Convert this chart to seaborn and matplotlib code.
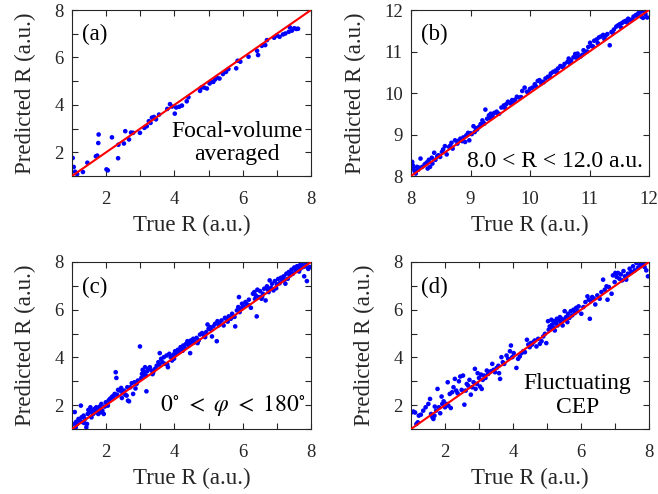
import matplotlib
matplotlib.use("Agg")
import matplotlib.pyplot as plt
import seaborn as sns
import pandas as pd
from matplotlib.ticker import MultipleLocator, FuncFormatter

# ---------------- data ----------------
a_true = [1.02, 1.05, 1.09, 1.15, 1.32, 1.45, 1.70, 1.74, 1.77, 1.78, 2.01, 2.05, 2.17, 2.35, 2.36,
          2.52, 2.56, 2.67, 2.73, 2.79, 2.99, 3.12, 3.19, 3.25, 3.30, 3.34, 3.40, 3.46, 3.55, 3.79,
          3.87, 3.93, 4.01, 4.05, 4.14, 4.22, 4.36, 4.41, 4.75, 4.79, 4.87, 4.95, 5.03, 5.07, 5.14,
          5.19, 5.24, 5.32, 5.42, 5.51, 5.58, 5.81, 5.85, 5.93, 6.17, 6.42, 6.45, 6.56, 6.66, 6.71,
          6.92, 7.00, 7.08, 7.18, 7.25, 7.35, 7.38, 7.44, 7.51, 7.57, 7.62]
a_pred = [1.76, 1.38, 1.18, 1.08, 1.17, 1.56, 1.83, 1.86, 2.39, 2.75, 1.28, 1.24, 2.63, 1.75, 2.32,
          2.37, 2.89, 2.54, 2.83, 2.82, 2.82, 3.03, 3.10, 3.31, 3.24, 3.46, 3.49, 3.39, 3.59, 3.83,
          4.03, 3.93, 3.63, 3.89, 3.92, 3.97, 4.15, 4.32, 4.59, 4.73, 4.73, 4.69, 4.90, 4.97, 4.97,
          5.07, 5.15, 5.11, 5.30, 5.39, 5.51, 5.54, 5.86, 5.82, 6.03, 6.28, 6.10, 6.49, 6.52, 6.73,
          6.83, 6.92, 6.87, 6.97, 7.01, 7.08, 7.27, 7.13, 7.23, 7.20, 7.21]

b_true = [8.02, 8.03, 8.04, 8.06, 8.08, 8.10, 8.12, 8.16, 8.19, 8.23, 8.27, 8.28, 8.30, 8.32, 8.35,
          8.36, 8.39, 8.41, 8.46, 8.49, 8.54, 8.57, 8.60, 8.64, 8.68, 8.70, 8.74, 8.78, 8.83, 8.86,
          8.91, 8.93, 8.96, 8.98, 9.02, 9.05, 9.07, 9.11, 9.14, 9.17, 9.20, 9.23, 9.25, 9.28, 9.31,
          9.34, 9.37, 9.40, 9.44, 9.48, 9.52, 9.56, 9.60, 9.63, 9.67, 9.70, 9.75, 9.78, 9.82, 9.87,
          9.91, 9.95, 10.00, 10.04, 10.08, 10.13, 10.16, 10.19, 10.23, 10.26, 10.30, 10.35, 10.39,
          10.43, 10.47, 10.51, 10.54, 10.58, 10.63, 10.65, 10.69, 10.73, 10.76, 10.80, 10.82, 10.85,
          10.90, 10.93, 10.98, 11.01, 11.04, 11.08, 11.12, 11.16, 11.19, 11.23, 11.27, 11.30, 11.34,
          11.37, 11.41, 11.45, 11.48, 11.51, 11.55, 11.58, 11.61, 11.65, 11.69, 11.74, 11.78, 11.82,
          11.85, 11.87, 11.90, 11.94, 11.97,
          8.14, 8.25, 8.44, 8.52, 8.66, 8.80, 8.88, 9.00, 9.09, 9.22, 9.33, 9.46, 9.58, 9.72, 9.85,
          9.97, 10.10, 10.21, 10.33, 10.45, 10.56, 10.67, 10.78, 10.88, 10.96, 11.06, 11.14, 11.25,
          11.39, 11.53, 11.63, 11.72, 11.80, 11.92]
b_pred = [8.34, 8.26, 8.18, 8.12, 8.06, 8.22, 8.15, 8.42, 8.22, 8.28, 8.33, 8.18, 8.39, 8.22, 8.44,
          8.30, 8.56, 8.39, 8.50, 8.46, 8.64, 8.72, 8.52, 8.70, 8.80, 8.66, 8.86, 8.78, 8.90, 8.84,
          8.82, 8.98, 9.04, 8.86, 9.01, 9.20, 9.06, 9.12, 9.18, 9.25, 9.34, 9.26, 9.60, 9.38, 9.46,
          9.50, 9.44, 9.52, 9.55, 9.50, 9.65, 9.70, 9.73, 9.79, 9.75, 9.83, 9.84, 9.91, 9.89, 10.05,
          10.13, 10.03, 10.10, 10.13, 10.21, 10.29, 10.31, 10.23, 10.26, 10.35, 10.39, 10.47, 10.51,
          10.54, 10.59, 10.65, 10.63, 10.70, 10.75, 10.83, 10.78, 10.86, 10.94, 10.95, 10.86, 10.88,
          11.03, 10.99, 11.11, 11.21, 11.13, 11.26, 11.29, 11.34, 11.36, 11.40, 11.38, 11.42, 11.15,
          11.47, 11.53, 11.60, 11.63, 11.66, 11.69, 11.72, 11.74, 11.79, 11.76, 11.84, 11.88, 11.92,
          11.95, 11.84, 11.81, 11.90, 11.82,
          8.20, 8.30, 8.47, 8.58, 8.73, 8.85, 8.93, 9.03, 9.15, 9.28, 9.40, 9.50, 9.64, 9.77, 9.90,
          10.02, 10.16, 10.27, 10.40, 10.50, 10.62, 10.72, 10.85, 10.92, 11.00, 11.12, 11.20, 11.30,
          11.45, 11.58, 11.70, 11.77, 11.86, 11.96]

c_true = [1.03, 1.08, 1.11, 1.15, 1.19, 1.23, 1.26, 1.28, 1.32, 1.34, 1.38, 1.42, 1.44, 1.46, 1.48,
          1.52, 1.54, 1.57, 1.60, 1.62, 1.66, 1.70, 1.71, 1.75, 1.77, 1.81, 1.86, 1.89, 1.93, 1.96,
          1.99, 2.03, 2.07, 2.11, 2.15, 2.18, 2.22, 2.25, 2.28, 2.30, 2.32, 2.35, 2.40, 2.44, 2.48,
          2.52, 2.56, 2.60, 2.64, 2.67, 2.71, 2.75, 2.79, 2.83, 2.89, 2.93, 2.99, 3.03, 3.05, 3.07,
          3.10, 3.12, 3.14, 3.18, 3.20, 3.24, 3.28, 3.33, 3.38, 3.43, 3.48, 3.53, 3.57, 3.61, 3.65,
          3.69, 3.73, 3.77, 3.81, 3.85, 3.89, 3.93, 3.97, 4.02, 4.06, 4.10, 4.14, 4.18, 4.22, 4.26,
          4.30, 4.34, 4.38, 4.42, 4.46, 4.48, 4.51, 4.55, 4.60, 4.65, 4.71, 4.75, 4.81, 4.87, 4.93,
          4.97, 5.00, 5.04, 5.10, 5.14, 5.19, 5.24, 5.26, 5.32, 5.38, 5.44, 5.48, 5.53, 5.59, 5.65,
          5.69, 5.73, 5.78, 5.83, 5.87, 5.89, 5.91, 5.94, 5.98, 6.02, 6.08, 6.12, 6.18, 6.24, 6.30,
          6.34, 6.38, 6.41, 6.43, 6.47, 6.51, 6.55, 6.59, 6.63, 6.67, 6.71, 6.76, 6.79, 6.83, 6.86,
          6.90, 6.94, 7.00, 7.04, 7.08, 7.12, 7.16, 7.20, 7.25, 7.28, 7.32, 7.35, 7.39, 7.43, 7.47,
          7.51, 7.55, 7.59, 7.63, 7.67, 7.69, 7.73, 7.77, 7.80, 7.84, 7.88, 7.92, 7.96,
          1.12, 1.36, 1.58, 1.84, 2.05, 2.20, 2.46, 2.62, 2.86, 3.16, 3.36, 3.56, 3.79, 3.99, 4.24,
          4.44, 4.68, 4.90, 5.08, 5.30, 5.56, 5.76, 5.96, 6.16, 6.36, 6.57, 6.74, 6.98, 7.22, 7.45,
          7.65, 7.86]
c_pred = [1.21, 1.71, 1.07, 1.21, 1.42, 1.35, 1.98, 1.49, 1.28, 1.56, 1.42, 1.07, 1.21, 1.63, 1.80,
          1.70, 1.91, 1.49, 1.77, 1.63, 1.84, 1.70, 1.91, 1.80, 1.63, 1.94, 2.05, 1.77, 1.63, 1.94,
          2.12, 2.05, 2.19, 2.26, 2.30, 2.36, 2.39, 2.47, 3.38, 3.14, 2.44, 2.64, 2.61, 2.72, 2.50,
          2.61, 2.44, 2.40, 2.19, 2.16, 2.75, 2.92, 2.47, 2.96, 2.89, 3.03, 4.46, 3.14, 3.31, 3.48,
          3.38, 3.24, 3.59, 2.58, 3.42, 3.52, 3.59, 3.45, 3.38, 3.52, 3.65, 3.80, 4.18, 3.94, 3.80,
          4.01, 3.73, 4.08, 3.59, 4.15, 4.01, 3.87, 4.12, 4.26, 4.15, 4.32, 4.22, 4.43, 4.32, 4.50,
          4.40, 4.57, 4.68, 4.50, 4.18, 4.71, 4.60, 4.78, 4.64, 4.82, 4.71, 4.96, 5.02, 4.92, 5.06,
          5.38, 5.20, 5.27, 4.88, 5.30, 5.41, 4.68, 5.52, 5.44, 5.55, 5.34, 5.66, 5.58, 5.72, 5.62,
          5.83, 5.72, 5.30, 5.97, 6.11, 6.53, 5.90, 6.04, 6.25, 6.14, 6.32, 6.22, 6.42, 6.08, 6.67,
          6.74, 6.60, 5.72, 6.84, 6.53, 6.78, 6.46, 6.67, 6.88, 6.39, 6.98, 6.74, 7.23, 6.92, 7.09,
          6.81, 7.20, 7.06, 7.29, 7.11, 7.34, 7.23, 7.40, 7.09, 7.51, 7.30, 7.58, 7.44, 7.68, 7.51,
          7.77, 7.63, 7.82, 7.71, 7.86, 7.72, 7.90, 7.79, 7.40, 7.82, 7.20, 7.71, 7.79,
          1.30, 1.25, 1.75, 1.70, 1.98, 2.35, 2.30, 2.75, 2.70, 3.25, 3.30, 3.70, 3.70, 3.95, 4.28,
          4.55, 4.60, 4.85, 5.15, 5.35, 5.50, 5.70, 6.05, 6.20, 6.45, 6.55, 6.85, 6.90, 7.25, 7.50,
          7.60, 7.95]

d_true = [1.02, 1.07, 1.12, 1.16, 1.20, 1.23, 1.29, 1.36, 1.43, 1.51, 1.56, 1.59, 1.63, 1.66, 1.69,
          1.70, 1.74, 1.78, 1.82, 1.86, 1.90, 1.92, 1.96, 2.00, 2.05, 2.08, 2.10, 2.14, 2.17, 2.21,
          2.25, 2.29, 2.33, 2.37, 2.41, 2.45, 2.49, 2.53, 2.57, 2.61, 2.64, 2.68, 2.72, 2.76, 2.80,
          2.84, 2.88, 2.90, 2.94, 2.96, 3.00, 3.03, 3.06, 3.08, 3.11, 3.15, 3.19, 3.23, 3.27, 3.35,
          3.39, 3.43, 3.47, 3.52, 3.57, 3.59, 3.62, 3.66, 3.70, 3.74, 3.81, 3.86, 3.91, 3.94, 3.98,
          4.02, 4.10, 4.15, 4.20, 4.25, 4.30, 4.35, 4.41, 4.45, 4.49, 4.52, 4.56, 4.60, 4.64, 4.69,
          4.74, 4.79, 4.84, 4.89, 4.94, 4.98, 5.03, 5.05, 5.08, 5.11, 5.13, 5.15, 5.18, 5.21, 5.23,
          5.26, 5.29, 5.31, 5.35, 5.38, 5.41, 5.43, 5.46, 5.50, 5.52, 5.56, 5.60, 5.62, 5.66, 5.70,
          5.74, 5.78, 5.82, 5.86, 5.90, 5.93, 6.01, 6.07, 6.13, 6.19, 6.23, 6.26, 6.29, 6.33, 6.38,
          6.42, 6.48, 6.55, 6.60, 6.65, 6.70, 6.75, 6.78, 6.82, 6.90, 6.94, 6.99, 7.01, 7.05, 7.09,
          7.13, 7.17, 7.21, 7.25, 7.29, 7.33, 7.38, 7.43, 7.48, 7.53, 7.58, 7.63, 7.68, 7.73, 7.77,
          7.82, 7.87, 7.92, 7.97]
d_pred = [1.70, 1.73, 1.69, 1.21, 1.28, 1.56, 1.60, 1.77, 1.91, 2.05, 2.26, 1.63, 1.49, 1.42, 1.56,
          1.94, 1.77, 2.68, 1.91, 1.66, 2.36, 2.05, 2.16, 1.91, 2.05, 2.96, 1.98, 2.47, 1.88, 2.54,
          2.75, 3.10, 2.61, 2.50, 3.00, 3.20, 2.64, 3.24, 2.02, 2.61, 2.89, 2.82, 3.06, 2.44, 2.75,
          2.96, 3.52, 2.68, 2.89, 3.34, 3.14, 2.78, 3.28, 2.68, 3.06, 3.24, 3.14, 3.45, 3.31, 3.42,
          3.73, 3.48, 3.38, 3.56, 3.65, 3.34, 3.10, 4.01, 3.80, 3.73, 4.08, 3.94, 4.26, 4.50, 4.01,
          4.18, 3.56, 3.94, 4.04, 4.18, 4.26, 4.22, 4.74, 4.54, 4.43, 4.60, 4.54, 4.64, 4.71, 4.46,
          4.78, 4.57, 4.68, 4.88, 4.99, 4.60, 5.52, 5.16, 5.30, 5.20, 5.58, 5.38, 5.27, 5.52, 5.13,
          5.44, 5.62, 5.34, 5.55, 5.69, 5.44, 5.62, 5.34, 5.58, 5.94, 5.69, 5.48, 5.83, 5.66, 5.94,
          5.76, 6.00, 5.86, 6.08, 5.94, 6.14, 5.83, 6.11, 6.32, 6.56, 6.42, 5.62, 6.36, 6.53, 6.46,
          6.22, 6.60, 6.46, 6.74, 7.26, 6.84, 6.98, 6.42, 6.95, 6.67, 7.44, 7.16, 7.54, 7.37, 7.54,
          7.30, 7.48, 7.23, 7.62, 7.40, 7.26, 7.51, 7.72, 7.58, 7.82, 7.65, 7.96, 7.76, 7.86, 7.90,
          7.96, 7.79, 7.65, 7.40]

ref_line = [1, 8]
ref_line_b = [8, 12]

panel_labels = ["(a)", "(b)", "(c)", "(d)"]
annotations = ["Focal-volume\naveraged", "8.0 < R < 12.0 a.u.",
               r"$0^{\circ}\ <\ \varphi\ <\ 180^{\circ}$", "Fluctuating\nCEP"]
xlabel = "True R (a.u.)"
ylabel = "Predicted R (a.u.)"

# ---------------- style ----------------
sns.set_style("ticks")
plt.rcParams["font.family"] = ["Liberation Serif", "DejaVu Serif"]
plt.rcParams["mathtext.fontset"] = "stix"
dark = "#262626"

fig = plt.figure(figsize=(6.58, 4.94), dpi=100)
W, H = 658, 494
boxes = [(72, 10, 311, 176), (411, 10, 649, 176), (72, 262, 311, 429), (411, 262, 649, 429)]
axes = [fig.add_axes([l / W, 1 - b / H, (r - l) / W, (b - t) / H]) for (l, t, r, b) in boxes]

datasets = [(a_true, a_pred, ref_line), (b_true, b_pred, ref_line_b),
            (c_true, c_pred, ref_line), (d_true, d_pred, ref_line)]

text_pos = [(0.69, 0.20, "center"), (0.975, 0.085, "right"), (0.975, 0.14, "right"), (0.70, 0.20, "center")]

for i, (ax, (xt, yp, rl)) in enumerate(zip(axes, datasets)):
    df = pd.DataFrame({"true": xt, "pred": yp})
    sns.scatterplot(data=df, x="true", y="pred", ax=ax, color="#0000ff", s=11,
                    edgecolor="none", linewidth=0, zorder=2)
    sns.lineplot(x=rl, y=rl, ax=ax, color="#ff0000", linewidth=1.5, zorder=3)
    ax.set_xlim(rl[0], rl[1])
    ax.set_ylim(rl[0], rl[1])
    ax.xaxis.set_major_locator(MultipleLocator(1))
    ax.yaxis.set_major_locator(MultipleLocator(1))
    if i != 1:
        fmt = FuncFormatter(lambda v, p: f"{int(round(v))}" if int(round(v)) % 2 == 0 and v > 1.5 else "")
        ax.xaxis.set_major_formatter(fmt)
        ax.yaxis.set_major_formatter(fmt)
    ax.tick_params(direction="in", top=True, right=True, length=4, width=0.8,
                   labelsize=13.5, colors=dark)
    ax.tick_params(axis="x", pad=11)
    ax.tick_params(axis="y", pad=6)
    for s in ax.spines.values():
        s.set_color(dark)
        s.set_linewidth(0.8)
    ax.set_xlabel(xlabel, fontsize=16.5, color=dark, labelpad=5)
    ax.set_ylabel(ylabel, fontsize=16.5, color=dark, labelpad=13)
    ax.text(0.04, 0.85, panel_labels[i], transform=ax.transAxes, fontsize=16.5,
            ha="left", va="center", color="black")
    x, y, ha = text_pos[i]
    ax.text(x, y, annotations[i], transform=ax.transAxes, fontsize=17,
            ha=ha, va="center", color="black", multialignment="center", linespacing=1.15)

fig.savefig("out.png", dpi=100)
